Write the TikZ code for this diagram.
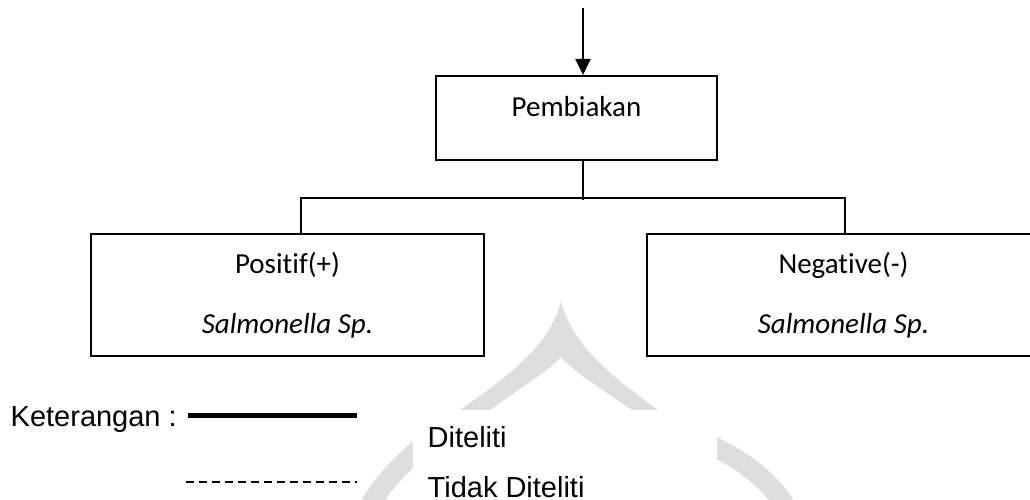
\documentclass[tikz,border=0pt]{standalone}
\usepackage{fontspec}
\newfontfamily\boxfont[Ligatures={NoCommon,NoRare}]{Carlito}
\newfontfamily\legfont{Liberation Sans}
\usetikzlibrary{arrows.meta}
\usetikzlibrary{positioning}
\definecolor{wmgray}{RGB}{222,222,222}

\begin{document}
\begin{tikzpicture}[y=-1cm,
  boxtext/.style={inner sep=0pt, font=\boxfont\fontsize{8.25}{10}\selectfont},
  box/.style={draw, line width=0.6pt, align=center, boxtext},
  leg/.style={anchor=base west, inner sep=0pt, font=\legfont\fontsize{8.25}{10}\selectfont},
  link/.style={line width=0.6pt}]

\useasboundingbox (0,0) rectangle (10.30,5.00);
\clip (0,0) rectangle (10.30,5.00);

% watermark
\fill[wmgray] (4.60,4.10) .. controls (5.10,3.75) and (5.50,3.45) .. (5.61,3.01)
  .. controls (5.72,3.45) and (6.10,3.75) .. (6.58,4.10)
  -- (6.32,4.10) .. controls (5.95,3.85) and (5.72,3.70) .. (5.61,3.57)
  .. controls (5.50,3.70) and (5.25,3.85) .. (4.90,4.10) -- cycle;
\draw[wmgray, line width=0.2cm] (6.95,4.38) .. controls (7.35,4.55) and (7.65,4.75) .. (7.85,5.05);
\draw[wmgray, line width=0.2cm] (4.30,4.40) .. controls (4.05,4.60) and (3.85,4.80) .. (3.70,5.05);
\fill[white] (4.13,4.10) rectangle (7.17,5.00);

\node[box, minimum width=2.81cm, minimum height=0.84cm] (pemb) at (5.765,1.18) {};
\node[boxtext] (pembtext) at (5.765,1.07) {Pembiakan};

\node[box, minimum width=3.93cm, minimum height=1.22cm] (pos) at (2.875,2.95)
  {Positif(+)\\[7pt]\textit{Salmonella Sp.}};
\node[box, minimum width=3.93cm, minimum height=1.22cm] (neg) at (8.435,2.95)
  {Negative(-)\\[7pt]\textit{Salmonella Sp.}};

\coordinate (top) at (5.83,0.08);
\coordinate (split) at (5.83,2.00);
\coordinate (lj) at (3.01,1.98);
\coordinate (rj) at (8.45,1.98);

\draw[link, -{Triangle[width=0.15cm,length=0.16cm]}] (top) -- (top |- pemb.north);
\draw[link] (pemb.south -| split) -- (split);
\draw[link] (pos.north -| lj) -- (lj) -- (rj) -- (neg.north -| rj);

% keterangan
\node[leg] (ket) at (0.10,4.27) {Keterangan :};
\coordinate (solA) at (1.88,4.155);
\coordinate (solB) at (3.57,4.155);
\draw[line width=1.4pt] (solA) -- (solB);
\node[leg] (dit) at (4.27,4.48) {Diteliti};

\coordinate (dasA) at (1.86,4.82);
\coordinate (dasB) at (3.57,4.82);
\draw[line width=0.5pt, dash pattern=on 0.08cm off 0.05cm] (dasA) -- (dasB);
\node[leg] (tdit) at (4.27,4.98) {Tidak Diteliti};

\end{tikzpicture}
\end{document}
